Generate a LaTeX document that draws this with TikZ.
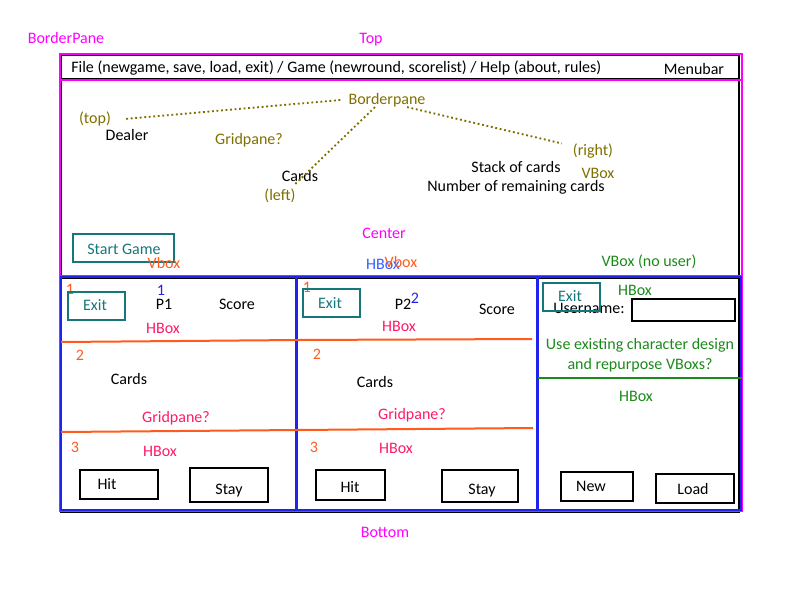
\documentclass[tikz,border=0pt]{standalone}
\usepackage{fontspec}
\setmainfont{Carlito}
\usetikzlibrary{positioning}
\definecolor{mag}{HTML}{FF00FF}
\definecolor{olive}{HTML}{806F00}
\definecolor{orng}{HTML}{FF5B1C}
\definecolor{pnk}{HTML}{FF1A66}
\definecolor{teal}{HTML}{16777A}
\definecolor{grn}{HTML}{1A8A1A}
\definecolor{blu}{HTML}{2222EE}
\definecolor{lblu}{HTML}{2F5FFF}
\tikzset{lbl/.style = {inner sep = 0, font = \fontsize{12}{14}\selectfont}}
\tikzset{btn/.style = {draw = black, line width = 1.5pt}}
\tikzset{tbtn/.style = {draw = teal, line width = 1.8pt}}
\tikzset{dotline/.style = {olive, line width = 1.4pt, dotted}}

\begin{document}
\begin{tikzpicture}[x=0.75pt, y=-0.75pt]
      \useasboundingbox (0, 0) rectangle (800, 600);

      % frames
      \draw [line width=1.5pt] (61, 55) rectangle (739, 79);
      \draw [line width=1.5pt] (61, 80) rectangle (739, 276);
      \draw [line width=1.5pt] (61, 278) rectangle (739, 512);
      \draw [mag, line width=1.3pt] (60, 54) rectangle (742, 511);
      \draw [mag, line width=1.3pt] (60, 80) -- (742, 80);
      \draw [mag, line width=1.3pt] (60, 276) -- (742, 276);
      \draw [blu, line width=1.5pt] (61, 277) rectangle (296, 510);
      \draw [blu, line width=1.5pt] (297, 277) rectangle (537, 510);
      \draw [blu, line width=1.5pt] (538, 277) rectangle (741, 510);

      % dividers
      \draw [orng, line width=1.5pt] (61, 342) -- (298, 340);
      \draw [orng, line width=1.5pt] (61, 432) -- (298, 430);
      \draw [orng, line width=1.5pt] (298, 340) -- (532, 339);
      \draw [orng, line width=1.5pt] (298, 430) -- (533, 428);
      \draw [grn, line width=1.3pt] (538, 378) -- (742, 378);

      % top and center
      \node [lbl, mag] (bpane) at (66, 38) {BorderPane};
      \node [lbl, mag] (topl) at (371, 40) {Top};
      \node [lbl, anchor=west] (menu) at (71, 68) {File (newgame, save, load, exit) / Game (newround, scorelist) / Help (about, rules)};
      \node [lbl] (menubar) at (694, 69) {Menubar};
      \node [lbl, olive] (bp) at (387, 100) {Borderpane};
      \node [lbl, olive] (top) at (95, 119) {(top)};
      \node [lbl] (dealer) at (127, 135) {Dealer};
      \node [lbl, olive] (grid) at (249, 140) {Gridpane?};
      \node [lbl] (cards) at (300, 176) {Cards};
      \node [lbl, olive] (left) at (280, 196) {(left)};
      \node [lbl, olive] (right) at (593, 151) {(right)};
      \node [lbl, olive] (vbr) at (598, 173) {VBox};
      \node [lbl] (stack) at (516, 167) {Stack of cards};
      \node [lbl] (remain) at (516, 187) {Number of remaining cards};
      \node [lbl, mag] (center) at (384, 233) {Center};
      \draw [tbtn] (73, 234) rectangle (174, 262);
      \node [lbl, teal] (start) at (124, 249) {Start Game};
      \node [lbl, orng] (vb1) at (164, 263) {Vbox};
      \node [lbl, lblu] (hb) at (383, 264) {HBox};
      \node [lbl, orng] (vb2) at (401, 262) {Vbox};
      \node [lbl, grn] (vbnu) at (649, 262) {VBox (no user)};

      \draw [dotline] ([xshift=-6pt]bp.west) -- ([xshift=10pt]top.east);
      \draw [dotline] ([xshift=-9pt]bp.south) -- ([xshift=-4pt, yshift=-2pt]cards.south);
      \draw [dotline] ([xshift=15pt]bp.south) -- ([xshift=-8pt]right.north west);

      % player 1
      \node [lbl, orng] (n11) at (70, 289) {1};
      \node [lbl, blu] (b11) at (161, 290) {1};
      \draw [tbtn] (68, 292) rectangle (125, 320);
      \node [lbl, teal] (exit1) at (95, 305) {Exit};
      \node [lbl] (p1) at (164, 304) {P1};
      \node [lbl] (score1) at (237, 304) {Score};
      \node [lbl, pnk] (hb11) at (163, 328) {HBox};
      \node [lbl, orng] (n12) at (80, 355) {2};
      \node [lbl] (cards1) at (129, 379) {Cards};
      \node [lbl, pnk] (grid1) at (176, 418) {Gridpane?};
      \node [lbl, orng] (n13) at (75, 447) {3};
      \node [lbl, pnk] (hb12) at (160, 451) {HBox};
      \draw [btn] (80, 470) rectangle (158, 499);
      \node [lbl] (hit1) at (107, 484) {Hit};
      \draw [btn] (190, 468) rectangle (268, 502);
      \node [lbl] (stay1) at (229, 491) {Stay};

      % player 2
      \node [lbl, orng] (n21) at (307, 287) {1};
      \draw [tbtn] (303, 289) rectangle (360, 317);
      \node [lbl, teal] (exit2) at (330, 303) {Exit};
      \node [lbl] (p2) at (403, 304) {P2};
      \node [lbl, blu] (b22) at (415, 298) {2};
      \node [lbl] (score2) at (497, 309) {Score};
      \node [lbl, pnk] (hb21) at (399, 326) {HBox};
      \node [lbl, orng] (n22) at (317, 354) {2};
      \node [lbl] (cards2) at (375, 382) {Cards};
      \node [lbl, pnk] (grid2) at (412, 415) {Gridpane?};
      \node [lbl, orng] (n23) at (314, 447) {3};
      \node [lbl, pnk] (hb22) at (396, 448) {HBox};
      \draw [btn] (316, 470) rectangle (385, 500);
      \node [lbl] (hit2) at (350, 487) {Hit};
      \draw [btn] (442, 470) rectangle (518, 502);
      \node [lbl] (stay2) at (482, 491) {Stay};

      % login
      \node [lbl] (user) at (589, 308) {Username:};
      \draw [tbtn] (543, 283) rectangle (600, 311);
      \node [lbl, teal] (exit3) at (570, 296) {Exit};
      \node [lbl, grn] (hb31) at (635, 290) {HBox};
      \draw [btn] (632, 299) rectangle (735, 321);
      \node [lbl, grn] (use1) at (640, 345) {Use existing character design};
      \node [lbl, grn] (use2) at (640, 365) {and repurpose VBoxs?};
      \node [lbl, grn] (hb32) at (636, 396) {HBox};
      \draw [btn] (561, 472) rectangle (633, 501);
      \node [lbl] (new) at (591, 486) {New};
      \draw [btn] (656, 474) rectangle (734, 503);
      \node [lbl] (load) at (693, 489) {Load};

      \node [lbl, mag] (bottom) at (385, 532) {Bottom};
    \end{tikzpicture}
\end{document}
